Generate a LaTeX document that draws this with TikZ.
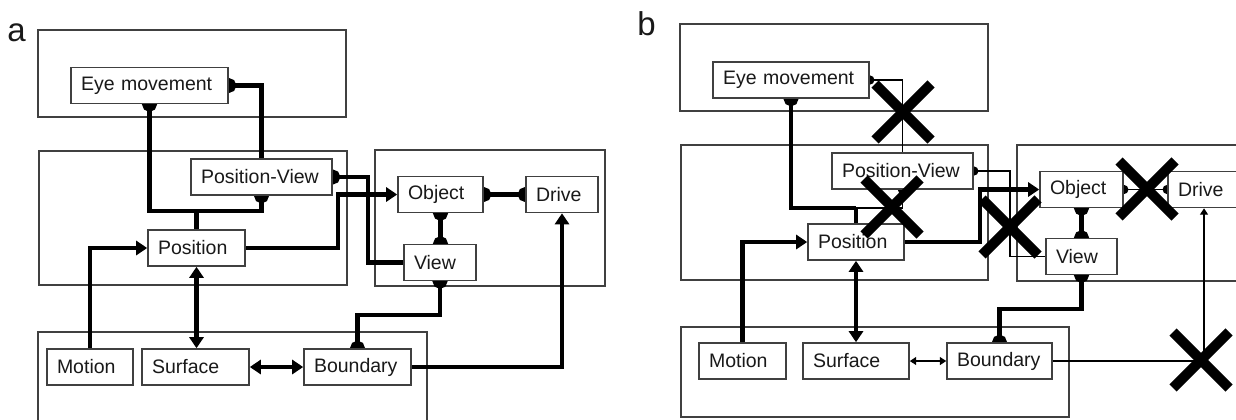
\documentclass[tikz,border=0pt]{standalone}
\usepackage{fontspec}
\setmainfont{Liberation Sans}
\usetikzlibrary{arrows.meta,shapes.misc}
\pgfdeclarelayer{back}
\pgfdeclarelayer{wires}
\pgfsetlayers{back,wires,main}
\tikzset{
  unit/.style={draw=black!75, line width=0.8pt, fill=white, inner xsep=5pt,
    inner ysep=0pt, minimum height=18pt, align=left, text=black!90,
    font=\fontsize{9.75pt}{11pt}\selectfont},
  group/.style={draw=black!75, line width=0.8pt},
  thk/.style={line width=2.4pt, black},
  thn/.style={line width=0.7pt, black},
  ballboth/.style={{Circle[length=7.4pt]}-{Circle[length=7.4pt]}, shorten <=-3.7pt, shorten >=-3.7pt},
  ballstart/.style={{Circle[length=7.4pt]}-, shorten <=-3.7pt},
  sballboth/.style={{Circle[length=4.6pt]}-{Circle[length=4.6pt]}, shorten <=-2.3pt, shorten >=-2.3pt},
  sballstart/.style={{Circle[length=4.6pt]}-, shorten <=-2.3pt},
  sballend/.style={-{Circle[length=4.6pt]}, shorten >=-2.3pt},
  arrowend/.style={-{Triangle[length=5.5pt,width=7pt]}},
  arrowboth/.style={{Triangle[length=5.5pt,width=7pt]}-{Triangle[length=5.5pt,width=7pt]}},
  sarrowend/.style={-{Triangle[length=3.2pt,width=4pt]}},
  sarrowboth/.style={{Triangle[length=3.2pt,width=4pt]}-{Triangle[length=3.2pt,width=4pt]}},
  xmark/.style={cross out, draw=black, line width=5pt, minimum size=23pt, inner sep=0pt},
  panel/.style={inner sep=0pt, text=black!90, font=\fontsize{16.5pt}{18pt}\selectfont},
}
\begin{document}
\begin{tikzpicture}[x=0.5pt, y=-0.5pt]
\useasboundingbox (0,0) rectangle (1236,419);

% ---------- panel a ----------
\node[panel] (labA) at (16.5,33) {a};
\node[unit, text width=68.5pt] (eyeA)  at (149.5,85.5) {Eye movement};
\node[unit, text width=60.5pt] (pvA)   at (261.5,177)  {Position-View};
\node[unit, text width=38.5pt] (posA)  at (196.5,248)  {Position};
\node[unit, text width=32.5pt] (objA)  at (440.5,194.5) {Object};
\node[unit, text width=26pt]   (drvA)  at (562,194.5)  {Drive};
\node[unit, text width=26pt]   (viewA) at (440,262.5)  {View};
\node[unit, text width=33pt]   (motA)  at (90,367)     {Motion};
\node[unit, text width=43.5pt] (surA)  at (195.5,367)  {Surface};
\node[unit, text width=43.5pt] (bndA)  at (357.5,367)  {Boundary};

\coordinate (jA) at (196.5,211);
\coordinate (kA) at (368,262.5);
\coordinate (mA) at (338,220);
\coordinate (nA) at (400,315);

\begin{pgfonlayer}{back}
  \draw[group] (38,30) rectangle (346,117);
  \draw[group] (39,151) rectangle (347,285);
  \draw[group] (375,150) rectangle (605,286);
  \draw[group] (38,332) rectangle (427,440);
\end{pgfonlayer}

\begin{pgfonlayer}{wires}
  \draw[thk, ballboth] (eyeA.south) |- (jA) -| (pvA.south);
  \draw[thk] (jA) -- (posA.north);
  \draw[thk, ballstart] (eyeA.east) -| (pvA.north);
  \draw[thk, ballstart] (pvA.east) -| (kA) -- (viewA.west);
  \draw[thk, arrowend] (posA.east) -| (mA) |- (objA.west);
  \draw[thk, ballboth] (objA.east) -- (drvA.west);
  \draw[thk, ballboth] (objA.south) -- (objA.south |- viewA.north);
  \draw[thk, ballboth] (viewA.south) |- (nA) -| (bndA.north);
  \draw[thk, arrowend] (bndA.east) -| (drvA.south);
  \draw[thk, arrowboth] (surA.east) -- (bndA.west);
  \draw[thk, arrowboth] (posA.south) -- (posA.south |- surA.north);
  \draw[thk, arrowend] (motA.north) |- (posA.west);
\end{pgfonlayer}

% ---------- panel b ----------
\node[panel] (labB) at (646.5,24) {b};
\node[unit, text width=68pt]   (eyeB)  at (791,80)      {Eye movement};
\node[unit, text width=60.5pt] (pvB)   at (902.5,171)   {Position-View};
\node[unit, text width=38pt]   (posB)  at (856,242)     {Position};
\node[unit, text width=31.5pt] (objB)  at (1081.5,189.5) {Object};
\node[unit, text width=26pt]   (drvB)  at (1204,189.5)  {Drive};
\node[unit, text width=25.5pt] (viewB) at (1081.5,256.5) {View};
\node[unit, text width=33.5pt] (motB)  at (742.5,361)   {Motion};
\node[unit, text width=43pt]   (surB)  at (856,361)     {Surface};
\node[unit, text width=42.5pt] (bndB)  at (999.5,361)   {Boundary};

\coordinate (jB) at (856,208);
\coordinate (kB) at (1010,256.5);
\coordinate (mB) at (980,220);
\coordinate (nB) at (1040,309);

\begin{pgfonlayer}{back}
  \draw[group] (680,24) rectangle (988,111);
  \draw[group] (681,145) rectangle (988,280);
  \draw[group] (1017,145) rectangle (1260,281);
  \draw[group] (681,327) rectangle (1069,417);
\end{pgfonlayer}

\begin{pgfonlayer}{wires}
  \draw[thk, ballstart] (eyeB.south) |- (jB);
  \draw[thk] (jB) -- (posB.north);
  \draw[thn, sballend] (jB) -| (pvB.south);
  \draw[thn, sballstart] (eyeB.east) -| (pvB.north);
  \draw[thn, sballstart] (pvB.east) -| (kB) -- (viewB.west);
  \draw[thk, arrowend] (posB.east) -| (mB) |- (objB.west);
  \draw[thn, sballboth] (objB.east) -- (drvB.west);
  \draw[thk, ballboth] (objB.south) -- (viewB.north);
  \draw[thk, ballboth] (viewB.south) |- (nB) -| (bndB.north);
  \draw[thn, sarrowend] (bndB.east) -| (drvB.south);
  \draw[thn, sarrowboth] (surB.east) -- (bndB.west);
  \draw[thk, arrowboth] (posB.south) -- (surB.north);
  \draw[thk, arrowend] (motB.north) |- (posB.west);
\end{pgfonlayer}

% lesion marks
\node[xmark] (cut1) at (903,112)  {};
\node[xmark] (cut2) at (892,207)  {};
\node[xmark] (cut3) at (1010,227) {};
\node[xmark] (cut4) at (1147,189) {};
\node[xmark] (cut5) at (1201,360) {};
\end{tikzpicture}
\end{document}
